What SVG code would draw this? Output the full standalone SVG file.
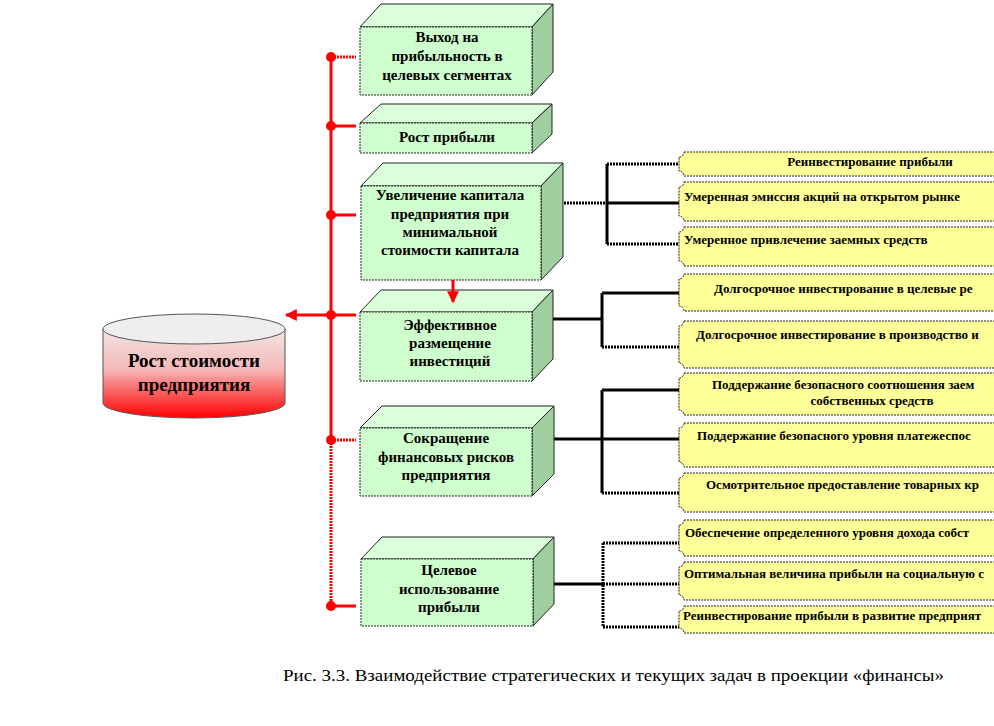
<svg xmlns="http://www.w3.org/2000/svg" width="994" height="726" viewBox="0 0 994 726">
<defs>
<linearGradient id="cyl" x1="0" y1="0" x2="0" y2="1">
<stop offset="0" stop-color="#f2e4e4"/>
<stop offset="0.45" stop-color="#f5b8b8"/>
<stop offset="1" stop-color="#ff0000"/>
</linearGradient>
<pattern id="dots" width="4" height="4" patternUnits="userSpaceOnUse">
<rect width="4" height="4" fill="#ccffcc"/>
<rect x="1" y="1" width="1" height="1" fill="#e8ffe8"/>
</pattern>
<marker id="redArrow" viewBox="0 0 10 10" refX="9" refY="5" markerWidth="4" markerHeight="4" orient="auto" markerUnits="strokeWidth">
<path d="M0,0 L10,5 L0,10 z" fill="#ff0000"/>
</marker>
</defs>
<style>
text{font-family:'Liberation Serif','Times New Roman','DejaVu Serif',serif}
.front{fill:url(#dots);stroke:#222;stroke-width:1;stroke-dasharray:2,1}
.top{fill:#dcffdc;stroke:#222;stroke-width:1}
.side{fill:#9fcf9f;stroke:#222;stroke-width:1}
.gt{font-weight:bold;font-size:15px;fill:#000;text-anchor:middle}
.yb{fill:#ffff99;stroke:#222;stroke-width:1;stroke-dasharray:2,1}
.yt{font-weight:bold;font-size:13px;fill:#000}
.red{stroke:#ff0000;stroke-width:3;fill:none}
.redd{stroke:#ff0000;stroke-width:3;fill:none;stroke-dasharray:2,1}
.blk{stroke:#000;stroke-width:3;fill:none}
.blkd{stroke:#000;stroke-width:3;fill:none;stroke-dasharray:2,1}
</style>

<g id="connectors">
<line class="red" x1="331" y1="57" x2="331" y2="440"/>
<line class="redd" x1="331" y1="440" x2="331" y2="606"/>
<line class="redd" x1="331" y1="57" x2="356" y2="57"/>
<line class="red" x1="331" y1="126" x2="356" y2="126"/>
<line class="red" x1="331" y1="215" x2="356" y2="215"/>
<line class="red" x1="331" y1="315" x2="356" y2="315"/>
<line class="redd" x1="331" y1="440" x2="356" y2="440"/>
<line class="red" x1="331" y1="606" x2="356" y2="606"/>
<line class="red" x1="331" y1="315" x2="286" y2="315" marker-end="url(#redArrow)"/>
<g fill="#ff0000">
<circle cx="331" cy="57" r="5"/><circle cx="331" cy="126" r="5"/><circle cx="331" cy="215" r="5"/>
<circle cx="331" cy="315" r="5"/><circle cx="331" cy="440" r="5"/><circle cx="331" cy="606" r="5"/>
</g>
<line class="blkd" x1="549" y1="203" x2="607" y2="203"/>
<line class="blk" x1="607" y1="164" x2="607" y2="244"/>
<line class="blkd" x1="607" y1="164" x2="679" y2="164"/>
<line class="blk" x1="607" y1="203" x2="679" y2="203"/>
<line class="blkd" x1="607" y1="244" x2="679" y2="244"/>
<line class="blk" x1="546" y1="319" x2="602" y2="319"/>
<line class="blk" x1="602" y1="293" x2="602" y2="347"/>
<line class="blk" x1="602" y1="293" x2="679" y2="293"/>
<line class="blkd" x1="602" y1="347" x2="679" y2="347"/>
<line class="blk" x1="545" y1="439" x2="679" y2="439"/>
<line class="blk" x1="602" y1="390" x2="602" y2="493"/>
<line class="blk" x1="602" y1="390" x2="679" y2="390"/>
<line class="blkd" x1="602" y1="493" x2="679" y2="493"/>
<line class="blk" x1="546" y1="584" x2="603" y2="584"/>
<line class="blkd" x1="603" y1="543" x2="603" y2="627"/>
<line class="blkd" x1="603" y1="543" x2="679" y2="543"/>
<line class="blkd" x1="603" y1="584" x2="679" y2="584"/>
<line class="blkd" x1="603" y1="627" x2="679" y2="627"/>
<g fill="#000">
<circle cx="549" cy="203" r="4"/><circle cx="546" cy="319" r="4"/><circle cx="545" cy="439" r="4"/><circle cx="546" cy="584" r="4"/>
</g>
</g>

<g id="cylinder">
<path d="M103,329 L103,403 A91,15 0 0 0 285,403 L285,329" fill="url(#cyl)" stroke="#555" stroke-width="1"/>
<ellipse cx="194" cy="329" rx="91" ry="15" fill="#eeeeee" stroke="#555" stroke-width="1"/>
<text x="194" y="367" font-weight="bold" font-size="19" text-anchor="middle">Рост стоимости</text>
<text x="194" y="391" font-weight="bold" font-size="19" text-anchor="middle">предприятия</text>
</g>

<g id="box1">
<polygon class="top" points="360,27 381,4 553,4 532,27"/>
<polygon class="side" points="532,27 553,4 553,72 532,95"/>
<rect class="front" x="360" y="27" width="172" height="68"/>
<text class="gt" x="447" y="42">Выход на</text>
<text class="gt" x="447" y="61">прибыльность  в</text>
<text class="gt" x="447" y="80">целевых сегментах</text>
</g>
<g id="box2">
<polygon class="top" points="360,123 381,104 552,104 532,123"/>
<polygon class="side" points="532,123 552,104 552,134 532,153"/>
<rect class="front" x="360" y="123" width="172" height="30"/>
<text class="gt" x="447" y="142">Рост прибыли</text>
</g>
<g id="box3">
<polygon class="top" points="361,186 383,163 563,163 541,186"/>
<polygon class="side" points="541,186 563,163 563,257 541,280"/>
<rect class="front" x="361" y="186" width="180" height="94"/>
<text class="gt" x="450" y="200">Увеличение капитала</text>
<text class="gt" x="450" y="219">предприятия при</text>
<text class="gt" x="450" y="237">минимальной</text>
<text class="gt" x="450" y="255">стоимости капитала</text>
</g>
<g id="box4">
<polygon class="top" points="360,312 381,290 553,290 532,312"/>
<polygon class="side" points="532,312 553,290 553,359 532,381"/>
<rect class="front" x="360" y="312" width="172" height="69"/>
<text class="gt" x="450" y="330">Эффективное</text>
<text class="gt" x="450" y="348">размещение</text>
<text class="gt" x="450" y="366">инвестиций</text>
</g>
<g id="box5">
<polygon class="top" points="360,428 382,406 554,406 532,428"/>
<polygon class="side" points="532,428 554,406 554,474 532,496"/>
<rect class="front" x="360" y="428" width="172" height="68"/>
<text class="gt" x="446" y="443">Сокращение</text>
<text class="gt" x="446" y="462">финансовых рисков</text>
<text class="gt" x="446" y="480">предприятия</text>
</g>
<g id="box6">
<polygon class="top" points="361,559 382,537 554,537 533,559"/>
<polygon class="side" points="533,559 554,537 554,604 533,626"/>
<rect class="front" x="361" y="559" width="172" height="67"/>
<text class="gt" x="449" y="575">Целевое</text>
<text class="gt" x="449" y="594">использование</text>
<text class="gt" x="449" y="612">прибыли</text>
</g>

<g id="arrowDown">
<line class="red" x1="453" y1="280" x2="453" y2="302" marker-end="url(#redArrow)"/>
</g>

<g id="y1a">
<path class="yb" d="M684,152 H1000 V176 H684 A5,5 0 0 0 679,171 V157 A5,5 0 0 0 684,152 Z"/>
<text class="yt" x="870" y="166" text-anchor="middle">Реинвестирование прибыли</text>
</g>
<g id="y1b">
<path class="yb" d="M684,182 H1000 V221 H684 A5,5 0 0 0 679,216 V187 A5,5 0 0 0 684,182 Z"/>
<text class="yt" x="684" y="201">Умеренная эмиссия акций на открытом рынке</text>
</g>
<g id="y1c">
<path class="yb" d="M684,227 H1000 V266 H684 A5,5 0 0 0 679,261 V232 A5,5 0 0 0 684,227 Z"/>
<text class="yt" x="684" y="244">Умеренное привлечение  заемных средств</text>
</g>
<g id="y2a">
<path class="yb" d="M684,274 H1000 V311 H684 A5,5 0 0 0 679,306 V279 A5,5 0 0 0 684,274 Z"/>
<text class="yt" x="714" y="293">Долгосрочное инвестирование в целевые ре</text>
</g>
<g id="y2b">
<path class="yb" d="M684,321 H1000 V368 H684 A5,5 0 0 0 679,363 V326 A5,5 0 0 0 684,321 Z"/>
<text class="yt" x="696" y="339">Долгосрочное инвестирование в производство и</text>
</g>
<g id="y3a">
<path class="yb" d="M684,373 H1000 V415 H684 A5,5 0 0 0 679,410 V378 A5,5 0 0 0 684,373 Z"/>
<text class="yt" x="712" y="389">Поддержание безопасного соотношения заем</text>
<text class="yt" x="872" y="405" text-anchor="middle">собственных средств</text>
</g>
<g id="y3b">
<path class="yb" d="M684,423 H1000 V467 H684 A5,5 0 0 0 679,462 V428 A5,5 0 0 0 684,423 Z"/>
<text class="yt" x="697" y="440">Поддержание безопасного уровня платежеспос</text>
</g>
<g id="y3c">
<path class="yb" d="M684,473 H1000 V512 H684 A5,5 0 0 0 679,507 V478 A5,5 0 0 0 684,473 Z"/>
<text class="yt" x="706" y="489">Осмотрительное предоставление товарных кр</text>
</g>
<g id="y4a">
<path class="yb" d="M684,520 H1000 V556 H684 A5,5 0 0 0 679,551 V525 A5,5 0 0 0 684,520 Z"/>
<text class="yt" x="685" y="537">Обеспечение определенного уровня дохода собст</text>
</g>
<g id="y4b">
<path class="yb" d="M684,562 H1000 V600 H684 A5,5 0 0 0 679,595 V567 A5,5 0 0 0 684,562 Z"/>
<text class="yt" x="684" y="578">Оптимальная величина прибыли на социальную  с</text>
</g>
<g id="y4c">
<path class="yb" d="M684,606 H1000 V633 H684 A5,5 0 0 0 679,628 V611 A5,5 0 0 0 684,606 Z"/>
<text class="yt" x="683" y="620">Реинвестирование прибыли в развитие предприят</text>
</g>

<text x="283" y="681" font-size="17" textLength="661" lengthAdjust="spacingAndGlyphs">Рис. 3.3. Взаимодействие стратегических и текущих задач в проекции «финансы»</text>
</svg>
